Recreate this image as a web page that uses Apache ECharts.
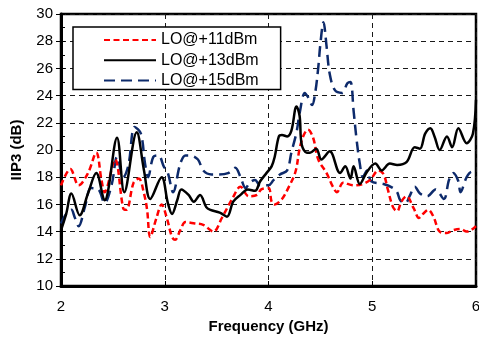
<!DOCTYPE html>
<html>
<head>
<meta charset="utf-8">
<script src="https://cdn.jsdelivr.net/npm/echarts@6/dist/echarts.min.js"></script>
<style>
  html, body { margin: 0; padding: 0; background: #fff; }
  #chart { width: 479px; height: 339px; }
</style>
</head>
<body>
<div id="chart"></div>
<script>
// IIP3 versus frequency for three LO drive levels
const seriesNames = ['LO@+11dBm', 'LO@+13dBm', 'LO@+15dBm'];

// [frequency (GHz), IIP3 (dB)]
const lo11 = [
  [2.00,17.4],[2.09,18.6],[2.17,17.4],[2.26,18.3],[2.34,19.8],[2.39,17.8],[2.42,16.9],
  [2.52,19.3],[2.60,15.7],[2.63,15.6],[2.70,17.6],[2.75,17.9],[2.80,16.8],[2.83,15.6],
  [2.86,13.6],[2.92,15.0],[2.97,16.0],[3.02,15.0],[3.07,13.6],[3.10,13.4],[3.15,14.1],
  [3.20,14.7],[3.29,14.6],[3.37,14.5],[3.47,14.0],[3.55,15.0],[3.65,16.4],[3.73,17.3],
  [3.81,16.6],[3.89,16.7],[3.93,17.1],[4.00,17.2],[4.03,16.2],[4.06,16.0],[4.13,16.4],
  [4.19,17.2],[4.26,18.4],[4.30,20.1],[4.34,21.1],[4.38,21.5],[4.43,20.9],[4.48,19.3],
  [4.56,18.3],[4.62,17.3],[4.66,16.9],[4.72,17.6],[4.82,17.4],[4.91,17.5],[4.98,17.8],
  [5.06,18.5],[5.11,18.2],[5.15,17.1],[5.20,15.8],[5.24,15.5],[5.28,16.2],[5.33,16.6],
  [5.40,15.7],[5.45,15.0],[5.49,15.3],[5.54,15.6],[5.59,15.1],[5.65,14.0],[5.72,13.9],
  [5.78,14.1],[5.85,14.2],[5.91,14.0],[5.97,14.2],[6.00,14.4]
];

const lo13 = [
  [2.00,14.1],[2.05,15.3],[2.10,16.8],[2.18,15.2],[2.26,16.8],[2.34,18.3],[2.42,16.3],
  [2.54,20.9],[2.61,16.9],[2.73,21.3],[2.80,18.5],[2.86,16.4],[2.97,18.0],[3.03,16.1],
  [3.07,15.3],[3.12,16.3],[3.16,17.1],[3.23,16.7],[3.28,16.2],[3.34,16.7],[3.40,15.8],
  [3.44,15.6],[3.53,15.4],[3.60,15.1],[3.66,16.2],[3.73,16.7],[3.80,17.1],[3.87,17.0],
  [3.92,17.7],[3.98,18.3],[4.03,18.8],[4.06,19.5],[4.10,21.0],[4.13,21.1],[4.18,21.0],
  [4.22,21.4],[4.27,23.2],[4.30,22.5],[4.32,20.4],[4.37,19.8],[4.40,19.8],[4.46,20.1],
  [4.51,19.3],[4.59,19.9],[4.69,18.3],[4.74,18.8],[4.79,17.9],[4.82,18.8],[4.88,17.5],
  [4.95,18.4],[5.03,19.0],[5.09,18.5],[5.17,19.0],[5.24,18.9],[5.33,19.1],[5.41,20.2],
  [5.46,20.1],[5.51,21.2],[5.56,21.6],[5.60,21.0],[5.65,20.0],[5.72,21.0],[5.77,20.2],
  [5.83,21.6],[5.91,20.5],[5.97,21.2],[6.00,23.7]
];

const lo15 = [
  [2.00,14.6],[2.05,15.3],[2.10,15.6],[2.13,15.1],[2.17,14.4],[2.23,15.8],[2.29,17.2],
  [2.36,17.1],[2.42,16.1],[2.49,17.5],[2.54,19.5],[2.60,18.0],[2.65,18.9],[2.71,21.7],
  [2.77,21.2],[2.81,19.0],[2.84,18.0],[2.89,19.5],[2.94,19.6],[2.99,18.8],[3.03,18.3],
  [3.08,16.9],[3.15,19.0],[3.20,19.6],[3.24,19.6],[3.32,19.3],[3.37,18.5],[3.45,18.2],
  [3.52,18.2],[3.61,18.3],[3.68,18.7],[3.73,18.0],[3.78,17.2],[3.82,17.6],[3.87,17.8],
  [3.92,17.4],[4.00,17.4],[4.05,17.8],[4.11,18.2],[4.18,18.5],[4.22,19.8],[4.27,21.3],
  [4.30,22.7],[4.35,24.2],[4.38,23.9],[4.42,23.3],[4.45,24.2],[4.48,26.1],[4.50,27.8],
  [4.53,29.4],[4.56,27.6],[4.59,25.6],[4.64,24.4],[4.71,24.2],[4.76,24.9],[4.79,25.0],
  [4.82,22.9],[4.85,20.7],[4.88,19.0],[4.91,18.0],[4.95,18.5],[4.99,17.7],[5.11,17.5],
  [5.20,17.2],[5.24,16.9],[5.27,16.3],[5.32,16.1],[5.36,16.6],[5.41,17.3],[5.46,16.8],
  [5.53,16.6],[5.61,17.1],[5.69,16.4],[5.74,17.8],[5.78,18.3],[5.83,17.7],[5.85,16.9],
  [5.91,18.0],[5.96,18.4],[6.00,18.3]
];

const xTicks = { min: 2, max: 6, step: 1 };
const yTicks = { min: 10, max: 30, step: 2 };

const FONT = '"Liberation Sans", Arial, sans-serif';
const gridDash = { color: '#1a1a1a', width: 1, type: [5, 4] };

const chart = echarts.init(document.getElementById('chart'), null, { renderer: 'canvas' });

chart.setOption({
  animation: false,
  backgroundColor: '#ffffff',
  grid: {
    left: 61, right: 3, top: 14, bottom: 53,
    outerBoundsMode: 'none',
    containLabel: false,
    show: true, borderColor: '#000', borderWidth: 2.5, backgroundColor: 'transparent'
  },
  legend: {
    orient: 'vertical',
    left: 73, top: 27,
    padding: [5, 22, 1, 30],
    itemGap: 4.3,
    itemWidth: 52,
    itemHeight: 14,
    itemStyle: { opacity: 0 },
    backgroundColor: '#fff',
    borderColor: '#000',
    borderWidth: 1.5,
    borderRadius: 0,
    textStyle: { fontFamily: FONT, fontSize: 16, color: '#000', lineHeight: 16 },
    data: seriesNames
  },
  xAxis: {
    type: 'value',
    min: xTicks.min, max: xTicks.max, interval: xTicks.step,
    name: 'Frequency (GHz)',
    nameLocation: 'middle',
    nameGap: 33,
    nameTextStyle: { fontFamily: FONT, fontSize: 15, fontWeight: 'bold', color: '#000' },
    axisLine: { show: true, lineStyle: { color: '#000', width: 3 } },
    axisTick: { show: true, inside: true, length: 5, lineStyle: { color: '#000', width: 1 } },
    axisLabel: { fontFamily: FONT, fontSize: 15, color: '#000', margin: 13 },
    splitLine: { show: true, lineStyle: gridDash }
  },
  yAxis: [
    {
      type: 'value',
      min: yTicks.min, max: yTicks.max, interval: yTicks.step,
      name: 'IIP3 (dB)',
      nameLocation: 'middle',
      nameGap: 37,
      nameRotate: 90,
      nameTextStyle: { fontFamily: FONT, fontSize: 15, fontWeight: 'bold', color: '#000' },
      axisLine: { show: true, lineStyle: { color: '#000', width: 3 } },
      axisTick: { show: true, inside: false, length: 5, lineStyle: { color: '#000', width: 1 } },
      axisLabel: { fontFamily: FONT, fontSize: 15, color: '#000', margin: 8 },
      splitLine: { show: true, lineStyle: gridDash }
    },
    {
      // inner 1 dB ticks
      type: 'value',
      position: 'left',
      min: yTicks.min, max: yTicks.max, interval: 1,
      axisLine: { show: false },
      axisTick: { show: true, inside: true, length: 4, lineStyle: { color: '#000', width: 1 } },
      axisLabel: { show: false },
      splitLine: { show: false }
    }
  ],
  series: [
    {
      name: seriesNames[0], type: 'line', data: lo11, smooth: 0.35,
      symbol: 'none', z: 3,
      lineStyle: { color: '#ff0000', width: 2.5, type: [6, 3.5] },
      itemStyle: { color: '#ff0000' }
    },
    {
      name: seriesNames[1], type: 'line', data: lo13, smooth: 0.35,
      symbol: 'none', z: 4,
      lineStyle: { color: '#000000', width: 2.5 },
      itemStyle: { color: '#000000' }
    },
    {
      name: seriesNames[2], type: 'line', data: lo15, smooth: 0.35,
      symbol: 'none', z: 2,
      lineStyle: { color: '#0d2a6b', width: 2.5, type: [11, 6] },
      itemStyle: { color: '#0d2a6b' }
    }
  ]
});
</script>
</body>
</html>
